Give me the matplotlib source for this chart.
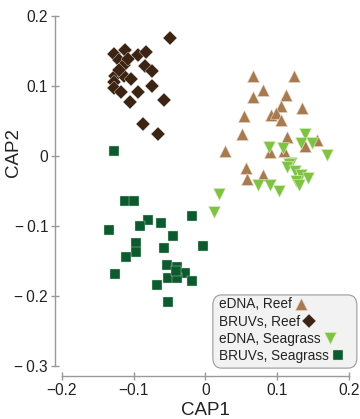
import matplotlib
matplotlib.use("Agg")
import matplotlib.pyplot as plt
from matplotlib.patches import FancyBboxPatch
from matplotlib.legend_handler import HandlerLine2D

plt.rcParams['font.family'] = ['Liberation Sans', 'DejaVu Sans']

# eDNA, Reef (upward triangles)
edna_reef_x = [0.066, 0.123, 0.080, 0.066, 0.112, 0.106, 0.135, 0.054, 0.092, 0.098,
               0.106, 0.051, 0.114, 0.155, 0.139, 0.028, 0.090, 0.109, 0.056, 0.058, 0.080]
edna_reef_y = [0.115, 0.115, 0.094, 0.085, 0.087, 0.072, 0.069, 0.057, 0.058, 0.061,
               0.051, 0.031, 0.027, 0.023, 0.015, 0.007, 0.006, 0.007, -0.017, -0.033, -0.027]

# BRUVs, Reef (diamonds)
bruv_reef_x = [-0.050, -0.128, -0.112, -0.094, -0.083, -0.120, -0.114, -0.084, -0.074, -0.126,
               -0.114, -0.128, -0.103, -0.074, -0.128, -0.117, -0.094, -0.105, -0.057, -0.087,
               -0.066, -0.108, -0.121]
bruv_reef_y = [0.168, 0.146, 0.151, 0.145, 0.149, 0.137, 0.130, 0.128, 0.121, 0.114,
               0.114, 0.106, 0.110, 0.100, 0.097, 0.092, 0.092, 0.077, 0.080, 0.046,
               0.032, 0.138, 0.123]

# eDNA, Seagrass (downward triangles)
edna_sea_x = [0.139, 0.134, 0.148, 0.088, 0.108, 0.169, 0.120, 0.116, 0.114, 0.125,
              0.134, 0.143, 0.127, 0.130, 0.074, 0.090, 0.102, 0.019, 0.012]
edna_sea_y = [0.032, 0.019, 0.018, 0.013, 0.011, 0.001, -0.010, -0.012, -0.016, -0.022,
              -0.027, -0.032, -0.035, -0.042, -0.042, -0.042, -0.050, -0.054, -0.080]

# BRUVs, Seagrass (squares)
bruv_sea_x = [-0.128, -0.112, -0.100, -0.080, -0.091, -0.062, -0.019, -0.135, -0.045, -0.097,
              -0.097, -0.110, -0.057, -0.004, -0.054, -0.040, -0.028, -0.126, -0.052, -0.040,
              -0.018, -0.068, -0.052, -0.041]
bruv_sea_y = [0.007, -0.064, -0.064, -0.092, -0.100, -0.095, -0.086, -0.105, -0.115, -0.124,
              -0.137, -0.144, -0.132, -0.128, -0.156, -0.159, -0.167, -0.169, -0.175, -0.174,
              -0.179, -0.185, -0.209, -0.165]

labels = ["eDNA, Reef", "BRUVs, Reef", "eDNA, Seagrass", "BRUVs, Seagrass"]
xticks = [-0.2, -0.1, 0, 0.1, 0.2]
xticklabels = ["\u22120.2", "\u22120.1", "0", "0.1", "0.2"]
yticks = [0.2, 0.1, 0, -0.1, -0.2, -0.3]
yticklabels = ["0.2", "0.1", "0", "\u2212\u20090.1", "\u2212\u20090.2", "\u2212\u20090.3"]


class LeftMarkerHandler(HandlerLine2D):
    """Place the legend marker near the left end of the handle box."""
    def get_xdata(self, legend, xdescent, ydescent, width, height, fontsize):
        xdata, _ = super().get_xdata(legend, xdescent, ydescent, width, height, fontsize)
        return xdata, [-xdescent + 0.42 * fontsize]


fig = plt.figure(figsize=(3.6, 4.19), dpi=100)
ax = fig.add_axes([0.172, 0.1265, 0.797, 0.8353])

h1, = ax.plot(edna_reef_x, edna_reef_y, linestyle='none', marker='^', ms=8.0,
              color='#a77b4f', mec='#e8d8c8', mew=0.4, label=labels[0])
h2, = ax.plot(bruv_reef_x, bruv_reef_y, linestyle='none', marker='D', ms=6.7,
              color='#3c2414', mec='#d8d0c8', mew=0.3, label=labels[1])
h3, = ax.plot(edna_sea_x, edna_sea_y, linestyle='none', marker='v', ms=8.0,
              color='#80c241', mec='#d8f0c8', mew=0.4, label=labels[2])
h4, = ax.plot(bruv_sea_x, bruv_sea_y, linestyle='none', marker='s', ms=7.8,
              color='#0c5a2d', mec='#c8e0d0', mew=0.3, label=labels[3])

ax.set_xlim(-0.2, 0.2)
ax.set_ylim(-0.3, 0.2)
ax.set_xticks(xticks)
ax.set_xticklabels(xticklabels)
ax.set_yticks(yticks)
ax.set_yticklabels(yticklabels)

for s in ['top', 'right']:
    ax.spines[s].set_visible(False)
ax.spines['left'].set_position(('outward', 5))
ax.spines['bottom'].set_position(('outward', 7))
for s in ['left', 'bottom']:
    ax.spines[s].set_color('#999999')
    ax.spines[s].set_linewidth(1.0)
ax.tick_params(direction='inout', length=6, width=1.0, color='#999999',
               labelsize=11.2, labelcolor='#222222', pad=2)

ax.set_xlabel("CAP1", fontsize=13.5, color='#222222', labelpad=3)
ax.set_ylabel("CAP2", fontsize=13.5, color='#222222')
ax.yaxis.set_label_coords(-0.139, 0.609)

# legend frame (rounded, light grey)
frame = FancyBboxPatch((0.526, -0.006), 0.502, 0.209, transform=ax.transAxes,
                       boxstyle="round,pad=0,rounding_size=0.03",
                       facecolor='#f2f2f2', edgecolor='#9a9a9a', linewidth=0.8,
                       clip_on=False, zorder=5)
ax.add_patch(frame)

hm = {h: LeftMarkerHandler() for h in (h1, h2, h3, h4)}
leg = ax.legend(handles=[h1, h2, h3, h4], labels=labels, handler_map=hm,
                loc='upper left', bbox_to_anchor=(0.549, 0.196), borderaxespad=0,
                markerfirst=False, fontsize=9.8, frameon=False,
                handletextpad=0.15, handlelength=1.0, labelspacing=0.24,
                borderpad=0)
leg.set_zorder(6)
for col in leg._legend_handle_box.get_children():
    col.align = "left"
for t in leg.get_texts():
    t.set_color('#222222')

fig.savefig("out.png", dpi=100)
